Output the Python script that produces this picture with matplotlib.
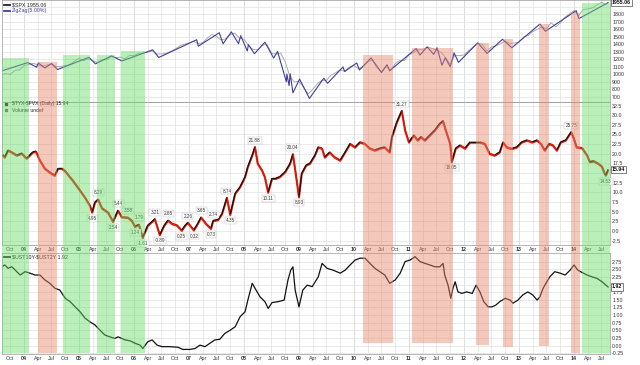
import numpy as np
import matplotlib
matplotlib.use("Agg")
import matplotlib.pyplot as plt
from matplotlib.collections import LineCollection
from matplotlib.transforms import offset_copy

plt.rcParams['font.family'] = ['Liberation Sans', 'DejaVu Sans']

# S&P 500 month-end closes, Jul 2003 .. Jul 2014, then the last print
spx_close = [990, 1008, 996, 1051, 1058, 1112,
             1131, 1145, 1126, 1107, 1121, 1141, 1101, 1104, 1115, 1130, 1174, 1212,
             1181, 1204, 1181, 1157, 1192, 1191, 1234, 1220, 1229, 1207, 1249, 1248,
             1280, 1281, 1295, 1311, 1270, 1270, 1277, 1304, 1336, 1378, 1401, 1418,
             1438, 1407, 1421, 1482, 1531, 1503, 1455, 1474, 1527, 1549, 1481, 1468,
             1379, 1331, 1323, 1386, 1400, 1280, 1267, 1283, 1166, 969, 896, 903,
             826, 735, 798, 873, 919, 919, 987, 1021, 1057, 1036, 1096, 1115,
             1074, 1104, 1169, 1187, 1089, 1031, 1102, 1049, 1141, 1183, 1181, 1258,
             1286, 1327, 1326, 1364, 1345, 1321, 1292, 1219, 1131, 1253, 1247, 1258,
             1312, 1366, 1408, 1398, 1310, 1362, 1379, 1407, 1441, 1412, 1416, 1426,
             1498, 1515, 1569, 1598, 1631, 1606, 1686, 1633, 1682, 1757, 1806, 1848,
             1783, 1859, 1872, 1884, 1924, 1960, 1931]
spx_last_t = 2014.62
spx_last = 1955.06

# ZigZag(5%) pivots (decimal years)
zz_t = [2003.60, 2004.07, 2004.23, 2004.26, 2004.38, 2004.50, 2004.61, 2005.18, 2005.30,
        2005.59, 2005.78, 2006.34, 2006.45, 2007.14, 2007.17, 2007.55, 2007.62, 2007.77,
        2007.90, 2007.94, 2008.06, 2008.08, 2008.19, 2008.38, 2008.54, 2008.61, 2008.77,
        2008.78, 2008.82, 2008.84, 2008.89, 2009.01, 2009.19, 2009.45, 2009.52, 2009.80,
        2009.83, 2010.05, 2010.10, 2010.31, 2010.50, 2010.60, 2010.65, 2011.13, 2011.20,
        2011.33, 2011.45, 2011.51, 2011.60, 2011.66, 2011.75, 2011.82, 2011.90, 2012.25,
        2012.42, 2012.70, 2012.87, 2013.38, 2013.48, 2014.04, 2014.09, 2014.62]
zz_v = [1045, 1155, 1094, 1150, 1084, 1141, 1063, 1225, 1138,
        1245, 1177, 1325, 1223, 1460, 1374, 1553, 1406, 1565,
        1407, 1515, 1310, 1395, 1273, 1427, 1215, 1305, 899,
        1003, 848, 1006, 752, 935, 677, 946, 879, 1097,
        1036, 1150, 1056, 1217, 1022, 1127, 1047, 1343, 1256,
        1364, 1265, 1353, 1119, 1219, 1099, 1285, 1158, 1419,
        1278, 1466, 1353, 1669, 1573, 1848, 1742, 1955]

# $TYX-$FVX
mid_t = [2003.62, 2003.65, 2003.71, 2003.78, 2003.87, 2003.96, 2004.05, 2004.16, 2004.22,
         2004.29, 2004.38, 2004.47, 2004.56, 2004.62, 2004.69, 2004.76, 2004.84, 2004.89,
         2004.93, 2005.02, 2005.11, 2005.20, 2005.24, 2005.29, 2005.35, 2005.42, 2005.53,
         2005.62, 2005.71, 2005.78, 2005.89, 2005.96, 2006.02, 2006.09, 2006.16, 2006.25,
         2006.33, 2006.38, 2006.47, 2006.55, 2006.62, 2006.69, 2006.78, 2006.87, 2006.93,
         2006.98, 2007.09, 2007.16, 2007.22, 2007.31, 2007.40, 2007.44, 2007.53, 2007.60,
         2007.69, 2007.75, 2007.84, 2007.93, 2008.02, 2008.07, 2008.15, 2008.20, 2008.25,
         2008.33, 2008.38, 2008.44, 2008.51, 2008.58, 2008.65, 2008.75, 2008.84, 2008.89,
         2008.95, 2009.00, 2009.05, 2009.13, 2009.20, 2009.29, 2009.35, 2009.42, 2009.47,
         2009.56, 2009.65, 2009.75, 2009.84, 2009.93, 2010.02, 2010.11, 2010.20, 2010.29,
         2010.38, 2010.47, 2010.56, 2010.65, 2010.69, 2010.78, 2010.87, 2010.93, 2011.00,
         2011.09, 2011.16, 2011.22, 2011.29, 2011.38, 2011.47, 2011.56, 2011.62, 2011.67,
         2011.75, 2011.78, 2011.85, 2011.93, 2012.02, 2012.11, 2012.20, 2012.29, 2012.38,
         2012.47, 2012.56, 2012.65, 2012.71, 2012.78, 2012.87, 2012.96, 2013.05, 2013.15,
         2013.24, 2013.33, 2013.40, 2013.47, 2013.55, 2013.62, 2013.69, 2013.76, 2013.85,
         2013.93, 2013.95, 2014.00, 2014.05, 2014.15, 2014.24, 2014.29, 2014.36, 2014.44,
         2014.51, 2014.56, 2014.58, 2014.62]
mid_v = [19.8, 19.2, 21.0, 20.5, 19.7, 20.2, 18.9, 20.5, 20.7,
         18.4, 16.3, 15.3, 14.5, 16.3, 16.3, 15.5, 14.0, 13.2,
         12.4, 10.6, 8.8, 6.7, 4.95, 7.5, 8.29, 6.0, 4.9,
         2.54, 5.44, 3.7, 3.58, 2.8, 1.24, 1.79, -1.61, 1.5,
         2.5, 3.21, -0.89, 1.5, 2.85, 2.0, 1.6, 0.25, 1.5,
         2.26, 0.32, 2.0, 3.65, 2.0, 0.73, 2.74, 3.0, 4.5,
         8.74, 4.35, 9.8, 11.5, 14.1, 16.7, 19.7, 21.88, 17.6,
         15.8, 14.1, 10.11, 13.7, 13.7, 14.1, 15.4, 17.6, 20.04,
         14.1, 8.93, 15.0, 17.1, 17.6, 19.7, 21.8, 21.5, 19.2,
         20.5, 19.2, 18.4, 20.5, 22.7, 21.8, 23.1, 22.7, 21.5,
         21.0, 21.5, 21.8, 20.5, 24.4, 28.3, 31.27, 26.2, 23.1,
         24.9, 23.6, 24.5, 23.6, 24.9, 26.2, 27.9, 28.6, 26.2,
         22.7, 18.05, 21.5, 22.3, 21.5, 23.1, 23.1, 23.1, 22.7,
         20.1, 19.7, 20.5, 23.1, 21.8, 21.4, 21.8, 23.1, 23.6,
         23.1, 23.6, 22.7, 21.0, 22.7, 22.3, 21.0, 23.1, 23.6,
         25.3, 25.75, 24.0, 21.8, 21.6, 19.7, 18.0, 18.2, 17.6,
         16.8, 15.0, 14.53, 15.94]

# swing labels on $TYX-$FVX (1 = above, -1 = below)
piv_t = [2005.24, 2005.35, 2005.62, 2005.71, 2005.89, 2006.02, 2006.09, 2006.16, 2006.38,
         2006.47, 2006.62, 2006.87, 2006.98, 2007.09, 2007.22, 2007.40, 2007.44, 2007.69,
         2007.75, 2008.20, 2008.44, 2008.89, 2009.00, 2010.87, 2011.78, 2013.95, 2014.58]
piv_v = [4.95, 8.29, 2.54, 5.44, 3.58, 1.24, 1.79, -1.61, 3.21,
         -0.89, 2.85, 0.25, 2.26, 0.32, 3.65, 0.73, 2.74, 8.74,
         4.35, 21.88, 10.11, 20.04, 8.93, 31.27, 18.05, 25.75, 14.53]
piv_side = [-1, 1, -1, 1, 1, -1, 1, -1, 1,
            -1, 1, -1, 1, -1, 1, -1, 1, 1,
            -1, 1, -1, 1, -1, 1, -1, 1, -1]

# $UST10Y-$UST2Y
spr_t = [2003.62, 2003.65, 2003.71, 2003.78, 2003.87, 2003.93, 2004.02, 2004.11, 2004.20,
         2004.29, 2004.38, 2004.47, 2004.56, 2004.65, 2004.75, 2004.84, 2004.93, 2005.02,
         2005.11, 2005.20, 2005.29, 2005.38, 2005.47, 2005.56, 2005.65, 2005.71, 2005.84,
         2005.93, 2006.02, 2006.11, 2006.16, 2006.25, 2006.33, 2006.42, 2006.51, 2006.65,
         2006.80, 2006.89, 2007.02, 2007.11, 2007.20, 2007.29, 2007.38, 2007.47, 2007.56,
         2007.65, 2007.75, 2007.84, 2007.93, 2008.02, 2008.07, 2008.15, 2008.20, 2008.29,
         2008.38, 2008.44, 2008.51, 2008.62, 2008.73, 2008.80, 2008.85, 2008.89, 2008.93,
         2009.00, 2009.07, 2009.15, 2009.24, 2009.35, 2009.42, 2009.51, 2009.62, 2009.75,
         2009.84, 2009.93, 2010.02, 2010.11, 2010.20, 2010.29, 2010.38, 2010.47, 2010.56,
         2010.65, 2010.75, 2010.84, 2010.93, 2011.02, 2011.11, 2011.20, 2011.29, 2011.38,
         2011.47, 2011.56, 2011.62, 2011.65, 2011.71, 2011.76, 2011.80, 2011.84, 2011.89,
         2011.96, 2012.05, 2012.15, 2012.22, 2012.29, 2012.36, 2012.44, 2012.51, 2012.58,
         2012.65, 2012.75, 2012.84, 2012.89, 2012.98, 2013.07, 2013.16, 2013.25, 2013.33,
         2013.38, 2013.44, 2013.49, 2013.56, 2013.65, 2013.75, 2013.84, 2013.93, 2014.00,
         2014.07, 2014.15, 2014.24, 2014.33, 2014.42, 2014.51, 2014.58, 2014.62]
spr_v = [2.60, 2.64, 2.53, 2.58, 2.42, 2.31, 2.42, 2.37, 2.31,
         2.31, 2.15, 2.04, 1.88, 1.82, 1.55, 1.44, 1.27, 1.11,
         0.90, 0.78, 0.68, 0.51, 0.35, 0.29, 0.24, 0.29, 0.19,
         0.16, 0.08, 0.02, -0.09, 0.13, 0.19, 0.02, -0.03, -0.03,
         -0.05, -0.12, -0.12, -0.09, 0.02, -0.03, 0.08, 0.19, 0.21,
         0.40, 0.51, 0.62, 0.95, 1.11, 1.49, 2.04, 1.88, 1.60,
         1.44, 1.22, 1.41, 1.44, 1.49, 2.15, 2.47, 2.58, 1.82,
         1.27, 1.82, 1.98, 1.93, 2.25, 2.69, 2.53, 2.47, 2.37,
         2.47, 2.64, 2.80, 2.86, 2.86, 2.69, 2.53, 2.42, 2.31,
         2.04, 2.15, 2.37, 2.75, 2.80, 2.91, 2.75, 2.69, 2.64,
         2.58, 2.58, 2.69, 2.31, 1.98, 1.55, 1.88, 2.09, 1.76,
         1.71, 1.76, 1.71, 1.98, 1.76, 1.44, 1.27, 1.27, 1.33,
         1.44, 1.55, 1.49, 1.39, 1.49, 1.66, 1.76, 1.66, 1.49,
         1.60, 1.88, 2.04, 2.25, 2.42, 2.37, 2.31, 2.47, 2.64,
         2.47, 2.39, 2.31, 2.25, 2.20, 2.09, 1.98, 1.92]

# highlighted periods
band_start = [2003.60, 2004.25, 2004.71, 2005.33, 2005.76, 2010.16, 2011.05,
              2012.22, 2012.71, 2013.36, 2013.95, 2014.15]
band_end = [2004.09, 2004.60, 2005.20, 2005.65, 2006.20, 2010.71, 2011.80,
            2012.45, 2012.89, 2013.55, 2014.11, 2014.65]
band_kind = ['g', 's', 'g', 'g', 'g', 's', 's', 's', 's', 's', 's', 'g']

# layout of the hand drawn bands (pixel rows of the 365 px image)
band_top_px = [58, 62, 55, 55, 51, 55, 48, 43, 39, 24, 13, 3]
band_bot_px = [353, 353, 353, 353, 353, 343, 343, 345, 347, 346, 353, 353]

W, H = 640, 365
XL, XR = 2003.6, 2014.655
fig = plt.figure(figsize=(W / 100, H / 100), dpi=100)
fig.patch.set_facecolor('white')

left = 2 / W
width = 608 / W


def panel(top_px, bot_px):
    return fig.add_axes([left, (H - bot_px) / H, width, (bot_px - top_px) / H])


ax1 = panel(0, 101.5)
ax2 = panel(101.5, 245)
ax3 = panel(253, 354)

quarters = np.arange(2003.75, 2014.6, 0.25)
qlab = []
for q in quarters:
    frac = round((q - np.floor(q)) * 4)
    qlab.append(["%02d" % (int(q) % 100), "Apr", "Jul", "Oct"][frac])

for ax in (ax1, ax2, ax3):
    ax.set_facecolor('none')
    ax.set_xlim(XL, XR)
    ax.set_xticks(quarters)
    ax.yaxis.tick_right()
    ax.tick_params(axis='both', length=0, labelsize=3.8, colors='#333333', pad=1.5)
    ax.grid(True, color='#e2e2e2', lw=0.5)
    for yr in range(2004, 2015):
        ax.axvline(yr, color='#c4c4c4', lw=0.5, zorder=0.5)
    for s in ax.spines.values():
        s.set_color('#9a9a9a')
        s.set_linewidth(0.5)
    ax.set_axisbelow(True)

# top panel: S&P 500 + zigzag
spx_t = 2003 + (7 + np.arange(len(spx_close))) / 12
ax1.plot(list(spx_t) + [spx_last_t], spx_close + [spx_last], color='#a0a0a0', lw=0.6)
ax1.plot(zz_t, zz_v, color='#3f3f9a', lw=0.8)
ax1.set_ylim(636, 1990)
ax1.set_yticks(np.arange(700, 2000, 100))
ax1.tick_params(labelbottom=False)

# middle panel: red fringe underneath, up moves black, down moves red
ax2.plot(mid_t, mid_v, color='#e02010', lw=1.5,
         transform=offset_copy(ax2.transData, fig=fig, y=-0.6, units='points'))
pts = np.column_stack([mid_t, mid_v])
segs = np.stack([pts[:-1], pts[1:]], axis=1)
cols = ['#111111' if b >= a else '#d01a0a' for a, b in zip(mid_v[:-1], mid_v[1:])]
ax2.add_collection(LineCollection(segs, colors=cols, linewidths=0.9))
ax2.set_ylim(-3.63, 33.55)
ax2.set_yticks(np.arange(-2.5, 33, 2.5))
ax2.yaxis.set_major_formatter(plt.FormatStrFormatter('%.1f'))
for t, v, sd in zip(piv_t, piv_v, piv_side):
    ax2.annotate('%.2f' % v, (t, v), xytext=(0, 4.5 * sd), textcoords='offset points',
                 ha='center', va='center', fontsize=3.3, color='#333333',
                 bbox=dict(boxstyle='square,pad=0.2', fc='white', ec='#b8b8b8', lw=0.3))

# bottom panel: 10y-2y spread
ax3.plot(spr_t, spr_v, color='#111111', lw=0.9)
ax3.set_ylim(-0.27, 3.03)
ax3.set_yticks(np.arange(-0.25, 2.8, 0.25))
ax3.yaxis.set_major_formatter(plt.FormatStrFormatter('%.2f'))

for ax in (ax2, ax3):
    ax.set_xticklabels(qlab)
    for lab in ax.get_xticklabels():
        if lab.get_text()[0].isdigit():
            lab.set_fontweight('bold')

# legends
def legend_line(ax, y, color, text, tcolor):
    ax.plot([0.004, 0.013], [y, y], transform=ax.transAxes, color=color, lw=1.3, clip_on=False)
    ax.text(0.017, y, text, transform=ax.transAxes, fontsize=3.8, color=tcolor, va='center')


legend_line(ax1, 0.955, '#222222', r'\$SPX 1955.06', '#222222')
legend_line(ax1, 0.893, '#3f3f9a', 'ZigZag(5.00%)', '#3f3f9a')
ax2.text(0.017, 0.983, r'\$TYX-\$FVX (Daily) 15.94', transform=ax2.transAxes,
         fontsize=3.6, color='#222222', va='center')
ax2.text(0.017, 0.940, 'Volume undef', transform=ax2.transAxes,
         fontsize=3.6, color='#222222', va='center')
ax2.plot([0.007], [0.983], 's', ms=1.4, color='#222222', transform=ax2.transAxes, clip_on=False)
ax2.plot([0.007], [0.940], 's', ms=1.4, color='#666666', transform=ax2.transAxes, clip_on=False)
legend_line(ax3, 0.965, '#222222', r'\$UST10Y-\$UST2Y 1.92', '#222222')

# last-value tags on the price axis (they cover the nearby scale labels)
for ax, val, txt, near in ((ax1, spx_last, '1955.06', 60), (ax2, mid_v[-1], '15.94', 1.5),
                           (ax3, spr_v[-1], '1.92', 0.12)):
    fig.canvas.draw()
    for tk, lab in zip(ax.get_yticks(), ax.get_yticklabels()):
        if abs(tk - val) < near:
            lab.set_visible(False)
    ax.annotate(txt, (1, val), xycoords=('axes fraction', 'data'), xytext=(1.5, 0),
                textcoords='offset points', ha='left', va='center', fontsize=3.8,
                fontweight='bold', color='#111111', annotation_clip=False,
                bbox=dict(boxstyle='square,pad=0.2', fc='white', ec='#222222', lw=0.4))

# overlay with the shaded periods, spanning all panels
ov = fig.add_axes([left, 0, width, 1])
ov.set_xlim(XL, XR)
ov.set_ylim(H, 0)
ov.axis('off')
for s0, s1, k, tp, bp in zip(band_start, band_end, band_kind, band_top_px, band_bot_px):
    ov.bar(s0, bp - tp, width=s1 - s0, bottom=tp, align='edge', lw=0,
           color='#66dd66' if k == 'g' else '#e8866a', alpha=0.45)

fig.savefig('out.png', dpi=100)
